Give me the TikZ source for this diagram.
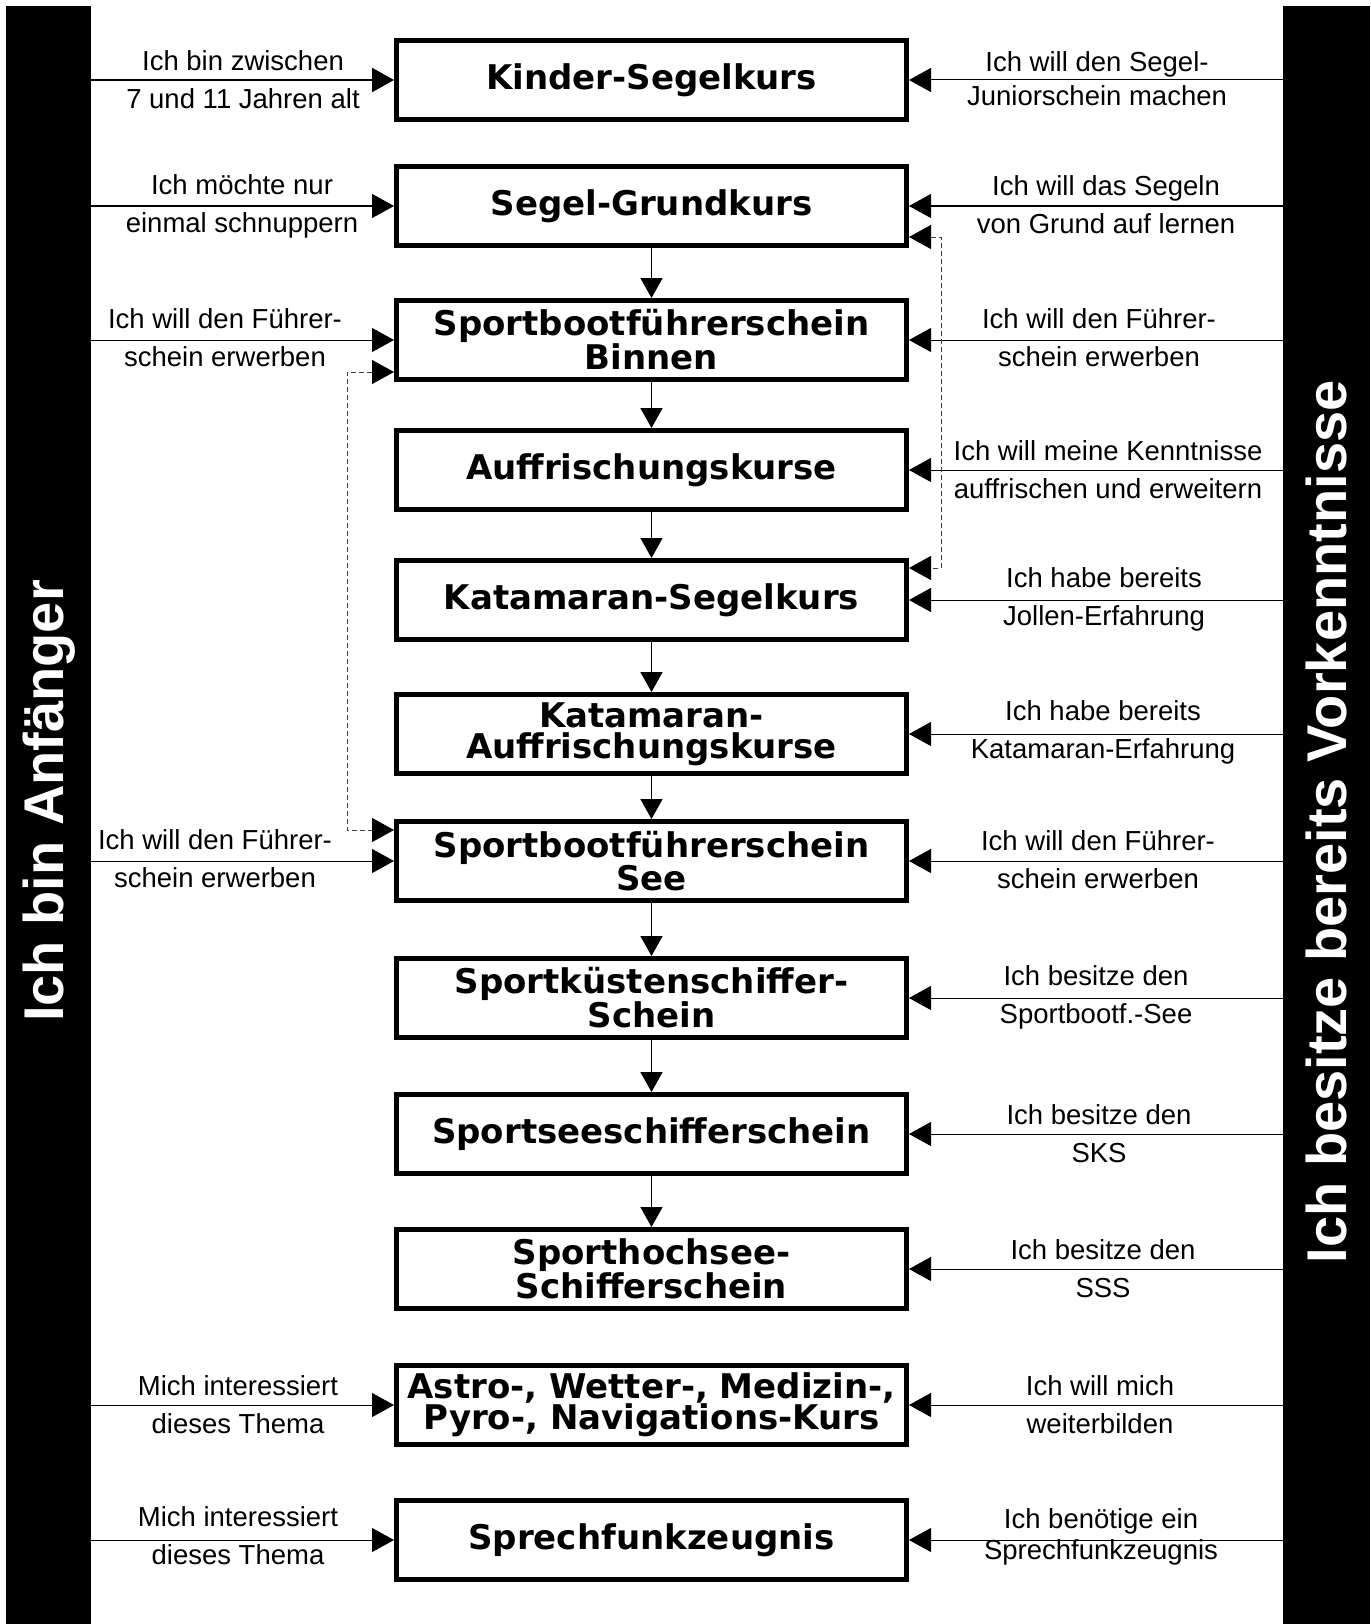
\documentclass[tikz,border=0pt]{standalone}
\usepackage{fontspec}
\setmainfont{Liberation Sans}
\newfontfamily\kursfont{DejaVu Sans}
\usetikzlibrary{arrows.meta}

\begin{document}
\begin{tikzpicture}[x=1pt, y=-1pt,
  kurs/.style={rectangle, draw=black, line width=5pt, minimum width=510pt, minimum height=79pt, inner sep=0pt, align=center, font=\kursfont\bfseries\fontsize{34}{31}\selectfont},
  hint/.style={align=center, inner sep=0pt, font=\fontsize{27.5}{38}\selectfont},
  sidebar/.style={rectangle, fill=black, inner sep=0pt, minimum width=85pt, minimum height=1618pt},
  bartext/.style={rotate=90, text=white, inner sep=0pt, font=\bfseries\fontsize{56}{60}\selectfont},
  arrow/.style={-{Triangle[length=22pt,width=24pt]}, line width=1pt},
  flow/.style={-{Triangle[length=20pt,width=22pt]}, line width=1.5pt},
  dasharrow/.style={{Triangle[length=22pt,width=24pt,color=black]}-{Triangle[length=22pt,width=24pt,color=black]}, line width=0.9pt, draw=black!75, dash pattern=on 5pt off 3pt}
]
\fill[white] (0,0) rectangle (1370,1624);
\useasboundingbox (0,0) rectangle (1370,1624);

% Seitenleisten
\node[sidebar] (lbar) at (48.5,815) {};
\node[sidebar, minimum width=87pt] (rbar) at (1326.5,815) {};
\node[bartext] (anf) at (49,801) {Ich bin Anfänger};
\node[bartext] (vork) at (1326,822) {Ich besitze bereits Vorkenntnisse};

% Kurse
\node[kurs] (kinder) at (651.5,80) {Kinder-Segelkurs};
\node[kurs] (grund) at (651.5,206) {Segel-Grundkurs};
\node[kurs] (binnen) at (651.5,340) {Sportbootführerschein\\Binnen};
\node[kurs] (auffr) at (651.5,470) {Auffrischungskurse};
\node[kurs] (katsegel) at (651.5,600) {Katamaran-Segelkurs};
\node[kurs] (katauffr) at (651.5,734) {Katamaran-\\Auffrischungskurse};
\node[kurs] (see) at (651.5,861) {Sportbootführerschein\\See};
\node[kurs] (sks) at (651.5,998) {Sportküstenschiffer-\\Schein};
\node[kurs] (sss) at (651.5,1134) {Sportseeschifferschein};
\node[kurs] (shs) at (651.5,1269) {Sporthochsee-\\Schifferschein};
\node[kurs] (kurse) at (651.5,1405) {Astro-, Wetter-, Medizin-,\\Pyro-, Navigations-Kurs};
\node[kurs] (funk) at (651.5,1540) {Sprechfunkzeugnis};

\draw[flow] (grund) -- (binnen);
\draw[flow] (binnen) -- (auffr);
\draw[flow] (auffr) -- (katsegel);
\draw[flow] (katsegel) -- (katauffr);
\draw[flow] (katauffr) -- (see);
\draw[flow] (see) -- (sks);
\draw[flow] (sks) -- (sss);
\draw[flow] (sss) -- (shs);

% links: Anfaenger
\node[hint] (lkinder) at (243,80) {Ich bin zwischen\\7 und 11 Jahren alt};
\node[hint] (lgrund) at (242,206) {Ich möchte nur\\einmal schnuppern};
\node[hint] (lbinnen) at (225,338) {Ich will den Führer-\\schein erwerben};
\node[hint] (lsee) at (215,859) {Ich will den Führer-\\schein erwerben};
\node[hint] (lkurse) at (238,1405) {Mich interessiert\\dieses Thema};
\node[hint] (lfunk) at (238,1536) {Mich interessiert\\dieses Thema};

\draw[arrow, line width=2.2pt] (lbar.east |- kinder.west) -- (kinder.west);
\draw[arrow] (lbar.east |- grund.west) -- (grund.west);
\draw[arrow] (lbar.east |- binnen.west) -- (binnen.west);
\draw[arrow] (lbar.east |- see.west) -- (see.west);
\draw[arrow] (lbar.east |- kurse.west) -- (kurse.west);
\draw[arrow] (lbar.east |- funk.west) -- (funk.west);

% rechts: Vorkenntnisse
\node[hint, font=\fontsize{27.5}{34}\selectfont] (rkinder) at (1097,79) {Ich will den Segel-\\Juniorschein machen};
\node[hint] (rgrund) at (1106,205) {Ich will das Segeln\\von Grund auf lernen};
\node[hint] (rbinnen) at (1099,338) {Ich will den Führer-\\schein erwerben};
\node[hint] (rauffr) at (1108,470) {Ich will meine Kenntnisse\\auffrischen und erweitern};
\node[hint] (rkatsegel) at (1104,599) {Ich habe bereits\\Jollen-Erfahrung};
\node[hint] (rkatauffr) at (1103,732) {Ich habe bereits\\Katamaran-Erfahrung};
\node[hint] (rsee) at (1098,860) {Ich will den Führer-\\schein erwerben};
\node[hint] (rsks) at (1096,997) {Ich besitze den\\Sportbootf.-See};
\node[hint] (rsss) at (1099,1134) {Ich besitze den\\SKS};
\node[hint] (rshs) at (1103,1269) {Ich besitze den\\SSS};
\node[hint] (rkurse) at (1100,1405) {Ich will mich\\weiterbilden};
\node[hint, font=\fontsize{27.5}{31}\selectfont] (rfunk) at (1101,1537) {Ich benötige ein\\Sprechfunkzeugnis};

\draw[arrow] (rbar.west |- kinder.east) -- (kinder.east);
\draw[arrow] (rbar.west |- grund.east) -- (grund.east);
\draw[arrow] (rbar.west |- binnen.east) -- (binnen.east);
\draw[arrow] (rbar.west |- auffr.east) -- (auffr.east);
\draw[arrow] (rbar.west |- katsegel.east) -- (katsegel.east);
\draw[arrow] (rbar.west |- katauffr.east) -- (katauffr.east);
\draw[arrow] (rbar.west |- see.east) -- (see.east);
\draw[arrow] (rbar.west |- sks.east) -- (sks.east);
\draw[arrow] (rbar.west |- sss.east) -- (sss.east);
\draw[arrow] (rbar.west |- shs.east) -- (shs.east);
\draw[arrow] (rbar.west |- kurse.east) -- (kurse.east);
\draw[arrow] (rbar.west |- funk.east) -- (funk.east);

% Querverbindungen
\draw[dasharrow] ([yshift=-31pt]grund.east) -- ++(32,0) |- ([yshift=32pt]katsegel.east);
\draw[dasharrow] ([yshift=-32pt]binnen.west) -- ++(-47,0) |- ([yshift=31pt]see.west);
\end{tikzpicture}
\end{document}
